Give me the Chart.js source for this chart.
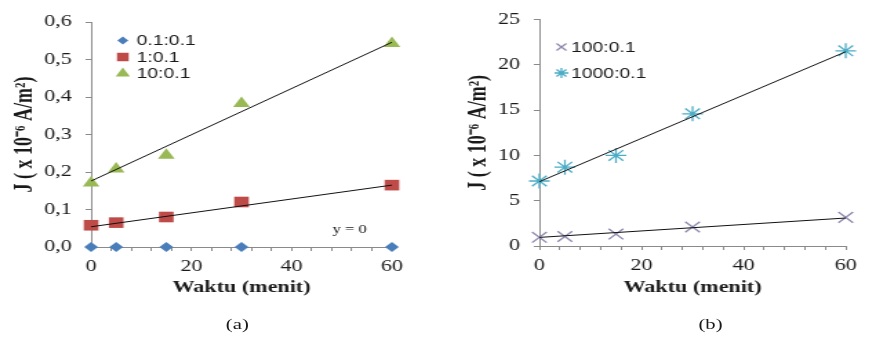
<!DOCTYPE html>
<html lang="id">
<head>
  <meta charset="UTF-8">
  <title>Rapat arus J terhadap waktu</title>
  <script src="https://cdn.jsdelivr.net/npm/chart.js"></script>
  <style>
    body {
      margin: 0;
      background: #fff;
      width: 879px;
      height: 343px;
      overflow: hidden;
    }
    .panel {
      position: absolute;
      top: 0;
      height: 343px;
      transform-origin: 0 0;
    }
    .panel canvas {
      position: absolute;
      left: 0;
      top: 0;
    }
    .cap {
      position: absolute;
      top: 316px;
      font-family: 'Liberation Serif', serif;
      font-size: 15px;
      color: #1a1a1a;
      transform: translateX(-50%);
    }
  </style>
</head>
<body>
  <div class="panel" id="panelA" style="left:0">
    <canvas id="chartA" width="319" height="310"></canvas>
    <div class="cap" style="left:172px">(a)</div>
  </div>
  <div class="panel" id="panelB" style="left:440px">
    <canvas id="chartB" width="318" height="310"></canvas>
    <div class="cap" style="left:196px">(b)</div>
  </div>

  <script>
    // the source figure is stretched sideways, so each panel is too
    const STRETCH = 1.38;

    const waktu = [0, 5, 15, 30, 60];
    const trendX = [0, 60];

    // (a)
    const namesA = ['0.1:0.1', '1:0.1', '10:0.1'];
    const jA01 = [0, 0, 0, 0, 0];
    const jA1 = [0.058, 0.065, 0.080, 0.120, 0.165];
    const jA10 = [0.171, 0.208, 0.245, 0.383, 0.543];
    const trendA1 = [0.054, 0.165];
    const trendA10 = [0.176, 0.546];

    // (b)
    const namesB = ['100:0.1', '1000:0.1'];
    const jB100 = [0.96, 1.05, 1.32, 2.1, 3.16];
    const jB1000 = [7.18, 8.7, 10.0, 14.6, 21.55];
    const trendB100 = [0.95, 3.09];
    const trendB1000 = [7.1, 21.45];

    const yTitle = 'J ( x 10\u207B\u2076 A/m\u00B2)';
    const xTitle = 'Waktu (menit)';

    document.getElementById('panelA').style.transform = `scaleX(${STRETCH})`;
    document.getElementById('panelB').style.transform = `scaleX(${STRETCH})`;

    const pts = (xs, ys) => xs.map((x, i) => ({ x, y: ys[i] }));

    const serif = "'Liberation Serif', 'Times New Roman', serif";
    const txt = '#1a1a1a';
    const axisGrey = '#8a8a8a';

    function markers(label, data, style, color, radius, legendRadius) {
      return {
        label, data,
        pointStyle: style,
        pointRadius: radius,
        pointHoverRadius: radius,
        pointBackgroundColor: color,
        pointBorderColor: color,
        pointBorderWidth: (style === 'crossRot' || style === 'star') ? 1.3 : 0,
        legendRadius,
        clip: false,
        order: 1
      };
    }

    function trend(data) {
      return {
        data,
        showLine: true,
        borderColor: '#111',
        borderWidth: 1,
        pointRadius: 0,
        clip: false,
        order: 0
      };
    }

    // legend drawn inside the plot like the original
    const insideLegend = {
      id: 'insideLegend',
      afterDraw(chart, args, opts) {
        const ctx = chart.ctx;
        const items = chart.data.datasets.filter(d => d.label);
        ctx.save();
        ctx.font = opts.font;
        ctx.textBaseline = 'middle';
        items.forEach((d, i) => {
          const y = opts.y + i * opts.rowGap;
          ctx.fillStyle = d.pointBackgroundColor;
          ctx.strokeStyle = d.pointBorderColor;
          ctx.lineWidth = d.pointBorderWidth || 1;
          Chart.helpers.drawPoint(ctx, {
            pointStyle: d.pointStyle,
            radius: d.legendRadius,
            rotation: 0,
            borderWidth: d.pointBorderWidth
          }, opts.x, y);
          ctx.fillStyle = txt;
          ctx.fillText(d.label, opts.textX, y + 1);
        });
        ctx.restore();
      }
    };

    const note = {
      id: 'note',
      afterDraw(chart, args, opts) {
        if (!opts.text) return;
        const { ctx, scales } = chart;
        ctx.save();
        ctx.font = `12px ${serif}`;
        ctx.fillStyle = txt;
        ctx.textAlign = 'center';
        ctx.textBaseline = 'middle';
        ctx.fillText(opts.text, scales.x.getPixelForValue(opts.x), scales.y.getPixelForValue(opts.y));
        ctx.restore();
      }
    };

    function makeOptions(cfg) {
      return {
        responsive: false,
        animation: false,
        layout: { padding: { top: cfg.top, right: cfg.right, left: 0, bottom: 0 } },
        plugins: {
          legend: { display: false },
          tooltip: { enabled: false },
          insideLegend: cfg.legend,
          note: cfg.note || {}
        },
        scales: {
          x: {
            type: 'linear',
            min: 0, max: 60,
            afterFit: s => { s.height = 310 - cfg.bottom; },
            border: { color: axisGrey },
            grid: { drawOnChartArea: false, color: axisGrey, tickLength: 4 },
            ticks: {
              stepSize: 4,
              autoSkip: false,
              maxRotation: 0,
              padding: 6,
              color: txt,
              font: { family: serif, size: 16 },
              callback: v => (v % 20 === 0 ? v : '')
            },
            title: {
              display: true,
              text: xTitle,
              color: txt,
              font: { family: serif, size: 16, weight: 'bold' },
              padding: { top: 0, bottom: 13 }
            }
          },
          y: {
            min: 0, max: cfg.yMax,
            afterFit: s => { s.width = cfg.left; },
            border: { color: axisGrey },
            grid: { drawOnChartArea: false, color: axisGrey, tickLength: 4 },
            ticks: {
              stepSize: cfg.yStep,
              padding: 10,
              color: txt,
              font: { family: serif, size: 16 },
              callback: cfg.yFmt
            },
            title: {
              display: true,
              text: yTitle,
              color: txt,
              font: { family: serif, size: 18, weight: 'bold' },
              padding: { top: cfg.titlePad, bottom: 0 }
            }
          }
        }
      };
    }

    new Chart(document.getElementById('chartA'), {
      type: 'scatter',
      data: {
        datasets: [
          markers(namesA[0], pts(waktu, jA01), 'rectRot', '#4a7ebb', 5, 4),
          markers(namesA[1], pts(waktu, jA1), 'rect', '#be4b48', 7.5, 6),
          markers(namesA[2], pts(waktu, jA10), 'triangle', '#98b954', 7, 6),
          trend(pts(trendX, trendA1)),
          trend(pts(trendX, trendA10))
        ]
      },
      options: makeOptions({
        top: 22, right: 35, bottom: 247, left: 66,
        yMax: 0.6, yStep: 0.1, titlePad: 8,
        yFmt: v => v.toFixed(1).replace('.', ','),
        legend: { x: 89, textX: 99, y: 40.5, rowGap: 16.5, font: "14px 'Liberation Sans', Arial, sans-serif" },
        note: { text: 'y = 0', x: 51.6, y: 0.045 }
      }),
      plugins: [insideLegend, note]
    });

    new Chart(document.getElementById('chartB'), {
      type: 'scatter',
      data: {
        datasets: [
          markers(namesB[0], pts(waktu, jB100), 'crossRot', '#8c88ad', 7.5, 5),
          markers(namesB[1], pts(waktu, jB1000), 'star', '#4bacc6', 7.5, 5),
          trend(pts(trendX, trendB100)),
          trend(pts(trendX, trendB1000))
        ]
      },
      options: makeOptions({
        top: 11, right: 24, bottom: 246, left: 72,
        yMax: 25, yStep: 5, titlePad: 18,
        yFmt: v => v,
        legend: { x: 88, textX: 95, y: 47, rowGap: 26, font: "14px 'Liberation Sans', Arial, sans-serif" }
      }),
      plugins: [insideLegend, note]
    });
  </script>
</body>
</html>
